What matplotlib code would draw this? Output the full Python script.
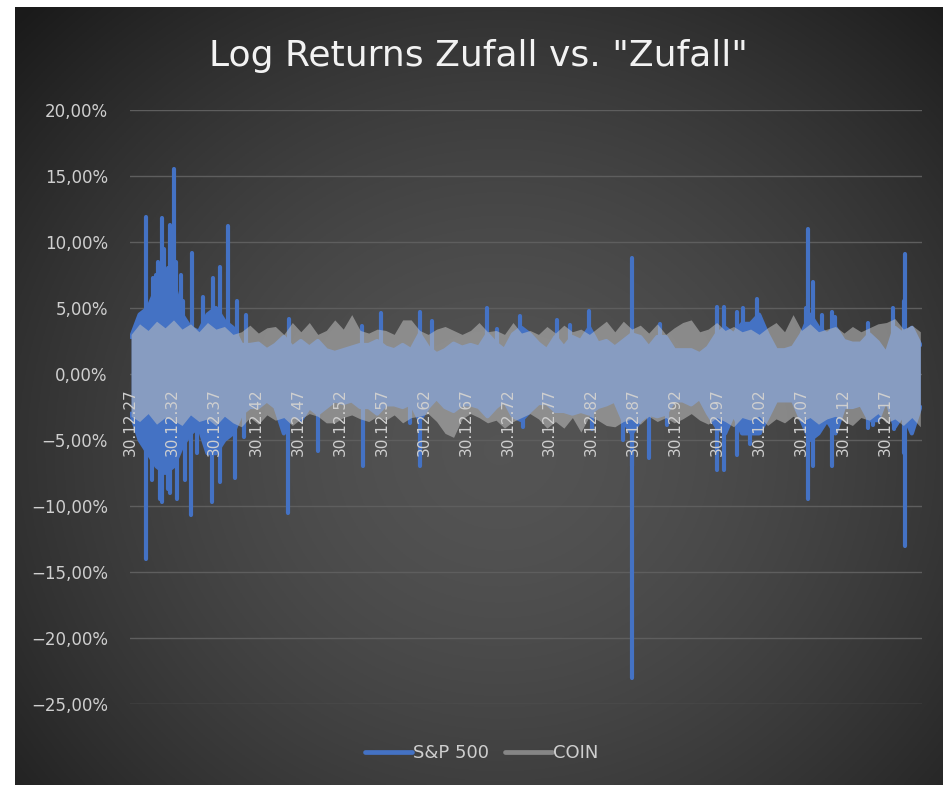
import numpy as np
import matplotlib
matplotlib.use("Agg")
import matplotlib.pyplot as plt
from matplotlib.lines import Line2D

# ---------------- data (percent) ----------------
years = list(range(1928, 2022))

# S&P 500: typical daily band per year (upper / lower envelope)
sp_band_hi = [2.8, 4.5, 5.0, 6.5, 7.5, 7.0, 4.5, 3.5, 3.2, 4.5, 5.0, 4.0, 3.5, 2.2, 2.2, 2.3, 1.8, 2.2,
              2.8, 2.0, 2.5, 2.0, 2.5, 1.8, 1.6, 1.8, 2.0, 2.2, 2.2, 2.5, 2.0, 1.8, 2.2, 1.8, 3.0, 2.0,
              1.5, 1.8, 2.3, 2.0, 2.2, 2.0, 3.0, 2.3, 1.8, 3.0, 3.5, 3.0, 2.3, 1.8, 2.8, 2.0, 2.8, 2.5,
              3.5, 2.3, 2.5, 2.0, 2.5, 3.0, 2.8, 2.0, 2.8, 2.8, 1.8, 1.8, 1.8, 1.5, 2.0, 3.0, 3.5, 3.0,
              3.8, 3.8, 4.5, 3.0, 1.8, 1.8, 2.0, 3.0, 4.5, 3.5, 3.0, 3.5, 2.5, 2.3, 2.3, 3.0, 2.4, 1.5,
              3.5, 3.0, 3.5, 2.2]
sp_band_lo = [-3.0, -5.0, -6.0, -7.0, -7.5, -7.0, -5.5, -4.5, -4.0, -6.0, -6.0, -5.0, -4.5, -3.0, -2.5,
              -2.5, -2.0, -2.5, -4.5, -3.0, -3.5, -2.5, -3.0, -2.5, -2.0, -2.2, -2.0, -2.5, -2.5, -3.0,
              -2.3, -2.3, -2.5, -2.2, -3.5, -2.5, -1.8, -2.5, -2.8, -2.3, -2.3, -2.5, -3.2, -2.5, -2.0,
              -3.2, -3.5, -2.8, -2.2, -2.2, -2.8, -2.8, -3.0, -2.8, -3.0, -2.5, -2.3, -2.0, -3.5, -4.5,
              -3.5, -3.0, -3.2, -3.0, -2.0, -2.0, -2.3, -1.8, -3.0, -4.0, -4.5, -3.0, -4.5, -4.5, -4.5,
              -3.3, -2.0, -2.0, -2.0, -3.5, -5.0, -4.5, -3.5, -4.5, -2.5, -2.5, -2.3, -3.5, -3.5, -1.8,
              -4.0, -3.0, -4.5, -2.5]

# S&P 500: single large daily moves (decimal year, log return in %)
sp_spike_dates = [1929.83, 1930.70, 1931.02, 1931.30, 1931.73, 1931.97, 1932.40, 1932.69, 1933.17,
                  1933.40, 1934.00, 1934.30, 1935.31, 1936.63, 1937.82, 1938.65, 1939.61, 1940.68,
                  1941.76, 1946.89, 1955.58, 1957.85, 1962.51, 1963.95, 1970.51, 1971.70, 1974.45,
                  1978.86, 1980.41, 1982.68, 1987.80, 1991.15, 1997.96, 1998.80, 2000.35, 2001.07,
                  2002.74, 2003.10, 2008.60, 2008.83, 2009.42, 2010.50, 2011.70, 2012.00, 2015.90,
                  2019.00, 2020.20, 2020.37,
                  1929.80, 1930.54, 1931.50, 1931.75, 1932.45, 1932.70, 1933.52, 1934.48, 1935.20,
                  1935.95, 1937.70, 1938.65, 1940.44, 1941.50, 1946.77, 1950.35, 1955.70, 1961.32,
                  1962.48, 1974.81, 1983.04, 1986.73, 1987.80, 1987.86, 1989.84, 1991.99, 1997.94,
                  1998.78, 2000.33, 2001.90, 2003.12, 2008.85, 2009.45, 2011.68, 2015.90, 2016.60,
                  2019.02, 2020.20, 2020.35]
sp_spike_values = [11.9, 7.3, 7.5, 8.5, 11.8, 9.5, 8.0, 11.3, 15.5,
                   8.5, 7.5, 5.5, 9.2, 5.8, 7.3, 8.1, 11.2, 5.5,
                   4.5, 4.2, 3.6, 4.6, 4.7, 4.0, 5.0, 3.4, 4.4,
                   4.1, 3.7, 4.8, 8.8, 3.8, 5.1, 5.1, 4.7, 5.0,
                   5.7, 4.3, 5.0, 11.0, 7.0, 4.5, 4.7, 4.3, 3.9,
                   5.0, 5.5, 9.1,
                   -14.0, -8.0, -9.5, -9.7, -8.7, -9.0, -9.5, -8.0, -10.7,
                   -6.0, -9.7, -8.2, -7.9, -4.8, -10.5, -5.8, -7.0, -3.7,
                   -7.0, -4.0, -4.2, -5.0, -23.0, -7.0, -6.4, -3.9, -7.3,
                   -7.3, -6.1, -5.3, -4.5, -9.5, -7.0, -7.0, -4.1, -3.9,
                   -4.2, -6.0, -13.0]

# COIN: per-year upper / lower envelope
coin_hi = [3.0, 3.8, 3.3, 4.0, 3.5, 4.1, 3.4, 3.8, 3.2, 3.9, 3.4, 3.6, 3.0, 3.2, 3.7, 3.1, 3.5, 3.6,
           3.0, 3.9, 3.2, 3.9, 3.0, 3.3, 4.1, 3.4, 4.5, 3.3, 3.1, 3.4, 3.3, 3.0, 4.1, 4.1, 3.3, 3.0,
           3.4, 3.6, 3.3, 3.0, 3.3, 3.9, 3.2, 3.3, 3.0, 3.9, 3.1, 3.3, 3.0, 3.6, 3.1, 3.7, 3.2, 3.4,
           3.0, 3.5, 4.0, 3.2, 4.0, 3.4, 3.7, 3.1, 3.8, 3.0, 3.5, 3.9, 4.1, 3.2, 3.4, 3.9, 3.3, 3.6,
           3.2, 3.4, 3.0, 3.5, 3.9, 3.2, 4.5, 3.3, 3.8, 3.2, 3.4, 3.6, 3.1, 3.6, 3.2, 3.5, 3.8, 3.9,
           4.2, 3.4, 3.7, 3.2]
coin_lo = [-3.2, -3.6, -3.0, -3.8, -3.3, -3.5, -3.9, -3.1, -3.6, -3.4, -3.9, -3.2, -3.7, -4.0, -3.3,
           -3.8, -3.1, -3.5, -3.3, -3.9, -3.4, -3.0, -3.2, -3.7, -3.7, -3.3, -3.1, -3.4, -3.6, -3.2,
           -3.5, -3.1, -3.7, -3.3, -3.2, -3.0, -3.6, -4.5, -4.8, -3.4, -3.0, -3.3, -3.7, -3.5, -4.1,
           -3.6, -3.3, -3.0, -3.4, -4.1, -3.6, -4.1, -3.3, -4.4, -3.2, -3.5, -3.9, -4.0, -3.6, -3.4,
           -3.8, -3.2, -3.6, -3.3, -3.7, -3.4, -3.0, -3.5, -3.8, -3.3, -3.6, -4.0, -3.3, -3.5, -3.2,
           -3.9, -3.4, -3.7, -3.2, -3.6, -3.3, -3.8, -3.4, -3.2, -3.6, -3.9, -3.3, -3.5, -3.0, -3.7,
           -3.4, -3.9, -3.3, -4.0]

y_ticks = [-25, -20, -15, -10, -5, 0, 5, 10, 15, 20]
x_tick_years = list(range(1927, 2018, 5))
x_tick_labels = ["30.12.%02d" % (y % 100) for y in x_tick_years]

title = 'Log Returns Zufall vs. "Zufall"'
series_names = ["S&P 500", "COIN"]

# ---------------- styling ----------------
W, H = 943, 785
BLUE = "#4472C4"
GRAY = "#C0C0C0"
GRAY_ALPHA = 0.55
TXT = "#CFCFCF"
plt.rcParams["font.family"] = ["DejaVu Sans"]

fig = plt.figure(figsize=(W / 100, H / 100), dpi=100)
fig.patch.set_facecolor("white")

# dark radial-gradient chart area
x0_px, y0_px = 15, 7
bg = fig.add_axes([x0_px / W, 0, (W - x0_px) / W, (H - y0_px) / H], zorder=-10)
gx = np.linspace(x0_px, W, 400)
gy = np.linspace(y0_px, H, 340)
GX, GY = np.meshgrid(gx, gy)
r = np.sqrt(((GX - 500) / 560) ** 2 + ((GY - 450) / 520) ** 2)
shade = 0.33 - 0.17 * np.clip(r, 0, 1.2) ** 1.6
img = np.dstack([shade, shade, shade])
bg.imshow(img, extent=[0, 1, 0, 1], aspect="auto", origin="upper")
bg.axis("off")

# plot axes
L, R, T, B = 130, 922, 110, 704
ax = fig.add_axes([L / W, (H - B) / H, (R - L) / W, (B - T) / H])
ax.set_facecolor("none")
for s in ax.spines.values():
    s.set_visible(False)

ax.set_xlim(1927.92, 2022.4)
ax.set_ylim(-25, 20)

for yv in y_ticks:
    ax.axhline(yv, color="#5E5E5E", lw=1.0, zorder=0.5)

# x positions of the yearly envelope values spread over the full date range
xb = np.linspace(1928.05, 2022.2, len(years))

# S&P 500 band
ax.fill_between(xb, sp_band_lo, sp_band_hi, color=BLUE, lw=0, zorder=2)
for edge in (sp_band_hi, sp_band_lo):
    ax.plot(xb, edge, color=BLUE, lw=3.0, solid_capstyle="round",
            solid_joinstyle="round", zorder=2)
spk = ax.vlines(sp_spike_dates, 0, sp_spike_values, color=BLUE, lw=3.0, zorder=2)
spk.set_capstyle("round")

# COIN band (semi-transparent so the overlap turns light blue-grey)
ax.fill_between(xb, coin_lo, coin_hi, color=GRAY, alpha=GRAY_ALPHA, lw=0, zorder=3)

# axes ticks
ax.set_yticks(y_ticks)
ax.set_yticklabels([("%.2f%%" % v).replace(".", ",").replace("-", "\u2212") for v in y_ticks],
                   fontsize=12, color=TXT)
ax.tick_params(axis="y", length=0, pad=16)
ax.spines["bottom"].set_position(("data", 0))
ax.set_xticks([y + 0.997 for y in x_tick_years])
ax.set_xticklabels(x_tick_labels, rotation=90, fontsize=11, color=TXT)
ax.tick_params(axis="x", length=0, pad=10)
ax.xaxis.set_zorder(5)

# title
fig.text(478 / W, 1 - 56 / H, title, ha="center", va="center", fontsize=26,
         color="#F2F2F2")

# legend
handles = [Line2D([], [], color=BLUE, lw=3.4, solid_capstyle="round"),
           Line2D([], [], color=GRAY, alpha=GRAY_ALPHA, lw=3.4, solid_capstyle="round")]
leg = fig.legend(handles, series_names, loc="center", bbox_to_anchor=(482 / W, 1 - 753 / H),
                 ncol=2, frameon=False, handlelength=2.6, handletextpad=0.05,
                 columnspacing=0.9, labelcolor=TXT, prop={"size": 13})

fig.savefig("out.png", dpi=100, facecolor=fig.get_facecolor())
